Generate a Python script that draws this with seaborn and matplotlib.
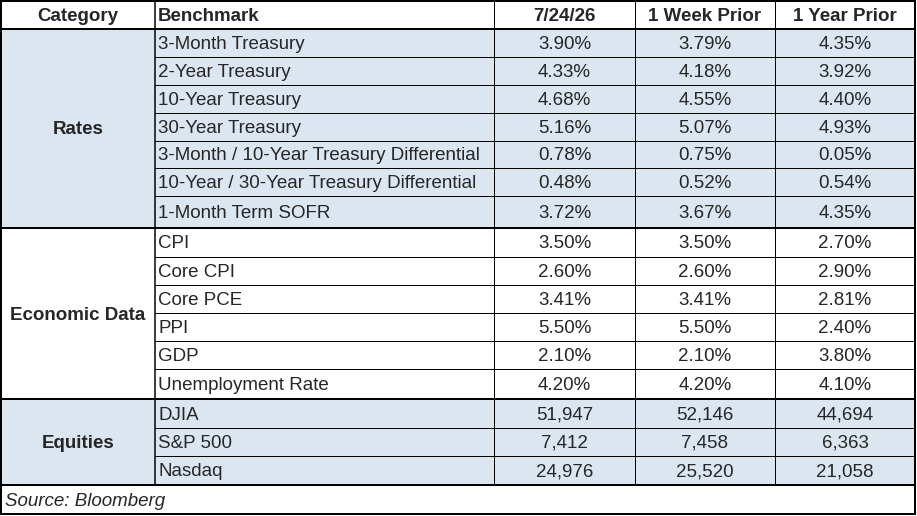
import matplotlib
matplotlib.use("Agg")
import matplotlib.pyplot as plt
from matplotlib.patches import Rectangle
import seaborn as sns

sns.set_theme(style="white")
plt.rcParams['font.family'] = ['Liberation Sans', 'DejaVu Sans']

# table content
headers = ["Category", "Benchmark", "7/24/26", "1 Week Prior", "1 Year Prior"]
categories = ["Rates", "Economic Data", "Equities"]
benchmarks = [
    ["3-Month Treasury", "2-Year Treasury", "10-Year Treasury", "30-Year Treasury",
     "3-Month / 10-Year Treasury Differential", "10-Year / 30-Year Treasury Differential",
     "1-Month Term SOFR"],
    ["CPI", "Core CPI", "Core PCE", "PPI", "GDP", "Unemployment Rate"],
    ["DJIA", "S&P 500", "Nasdaq"],
]
current = [
    ["3.90%", "4.33%", "4.68%", "5.16%", "0.78%", "0.48%", "3.72%"],
    ["3.50%", "2.60%", "3.41%", "5.50%", "2.10%", "4.20%"],
    ["51,947", "7,412", "24,976"],
]
week_prior = [
    ["3.79%", "4.18%", "4.55%", "5.07%", "0.75%", "0.52%", "3.67%"],
    ["3.50%", "2.60%", "3.41%", "5.50%", "2.10%", "4.20%"],
    ["52,146", "7,458", "25,520"],
]
year_prior = [
    ["4.35%", "3.92%", "4.40%", "4.93%", "0.05%", "0.54%", "4.35%"],
    ["2.70%", "2.90%", "2.81%", "2.40%", "3.80%", "4.10%"],
    ["44,694", "6,363", "21,058"],
]
shaded = [True, False, True]
source = "Source: Bloomberg"

# layout (pixels)
col_edges = [1, 155, 494, 635, 775, 915]
row_edges = [1, 29, 57, 85, 113, 141, 168, 196, 228,
             257, 285, 313, 341, 369, 399, 428, 456, 485, 514]
fill = "#DCE6F1"
fs = 13.5
px = 0.72  # one pixel in points at dpi 100
dy = 1.5   # small downward nudge of text

fig = plt.figure(figsize=(9.17, 5.16), dpi=100)
ax = fig.add_axes([0, 0, 1, 1])
ax.set_xlim(0, 917)
ax.set_ylim(516, 0)
ax.axis("off")

def mid(a, b):
    return (a + b) / 2

# header
for j, h in enumerate(headers):
    y = mid(row_edges[0], row_edges[1]) + dy
    if j == 1:
        ax.text(col_edges[1] + 3, y, h, ha="left", va="center", fontsize=fs, fontweight="bold")
    else:
        ax.text(mid(col_edges[j], col_edges[j + 1]), y, h, ha="center", va="center",
                fontsize=fs, fontweight="bold")

r = 1
section_bounds = []
for s, cat in enumerate(categories):
    top = row_edges[r]
    bottom = row_edges[r + len(benchmarks[s])]
    section_bounds.append((top, bottom))
    if shaded[s]:
        ax.add_patch(Rectangle((col_edges[0], top), col_edges[-1] - col_edges[0],
                               bottom - top, facecolor=fill, edgecolor="none", zorder=0))
    ax.text(mid(col_edges[0], col_edges[1]), mid(top, bottom) + dy, cat, ha="center",
            va="center", fontsize=fs, fontweight="bold")
    for i, name in enumerate(benchmarks[s]):
        y0, y1 = row_edges[r + i], row_edges[r + i + 1]
        y = mid(y0, y1) + dy
        ax.text(col_edges[1] + 3, y, name, ha="left", va="center", fontsize=fs)
        for j, vals in enumerate([current, week_prior, year_prior]):
            ax.text(mid(col_edges[j + 2], col_edges[j + 3]), y, vals[s][i],
                    ha="center", va="center", fontsize=fs)
        if i > 0:
            ax.plot([col_edges[1], col_edges[-1]], [y0, y0], color="black", lw=1 * px)
    r += len(benchmarks[s])

# vertical lines
table_bottom = section_bounds[-1][1]
ax.plot([col_edges[1]] * 2, [row_edges[0], table_bottom], color="black", lw=1.5 * px)
for x in col_edges[2:-1]:
    ax.plot([x, x], [row_edges[0], table_bottom], color="black", lw=1 * px)

# thick horizontal lines
for y in [row_edges[1]] + [b for _, b in section_bounds]:
    ax.plot([col_edges[0], col_edges[-1]], [y, y], color="black", lw=2 * px)

# outer border
ax.add_patch(Rectangle((col_edges[0], row_edges[0]), col_edges[-1] - col_edges[0],
                       row_edges[-1] - row_edges[0], facecolor="none",
                       edgecolor="black", lw=2 * px, zorder=3))

# source
ax.text(col_edges[0] + 4, mid(row_edges[-2], row_edges[-1]) + dy, source, ha="left",
        va="center", fontsize=fs, fontstyle="italic")

fig.savefig("out.png", dpi=100)
